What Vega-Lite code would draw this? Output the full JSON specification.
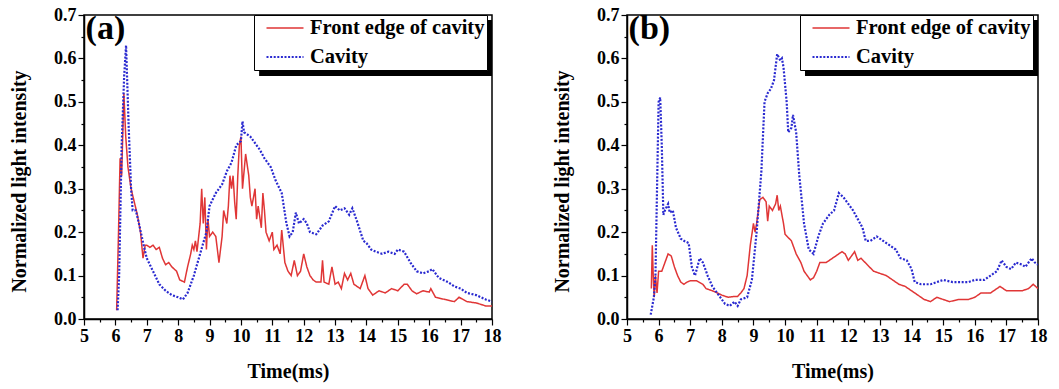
{
"$schema": "https://vega.github.io/schema/vega-lite/v6.json",
"padding": {"left": 8, "top": 5, "right": 2, "bottom": 2},
"spacing": 49,
"config": {
  "font": "Liberation Serif",
  "view": {"stroke": "black", "strokeWidth": 1.5},
  "axis": {"labelOverlap": false, "labelSeparation": 0, "labelFont": "Liberation Serif", "labelFontWeight": "bold", "labelFontSize": 18, "labelColor": "black", "titleFont": "Liberation Serif", "titleFontWeight": "bold", "titleFontSize": 20, "titleColor": "black", "domainColor": "black", "domainWidth": 1.5, "tickColor": "black", "tickWidth": 1.2, "gridColor": "#9a9a9a", "gridDash": [4, 3], "gridWidth": 1},
  "legend": {"orient": "none", "legendY": 0, "title": null, "fillColor": "white", "strokeColor": "black", "strokeWidth": 1, "padding": 2, "labelFont": "Liberation Serif", "labelFontWeight": "bold", "labelFontSize": 20.5, "labelLimit": 400, "labelColor": "black", "symbolType": "M-0.1,0L3.6,0", "symbolSize": 400, "symbolStrokeWidth": 2, "rowPadding": 6.5, "labelOffset": 31}
},
"resolve": {"scale": {"color": "independent", "strokeDash": "independent", "strokeWidth": "independent"}, "legend": {"color": "independent", "strokeDash": "independent"}},
"hconcat": [
{
  "width": 408, "height": 304,
  "layer": [
  {
    "data": {"values": [{}]},
    "mark": {"type": "rect", "color": "black"},
    "encoding": {"x": {"datum": 10.58, "type": "quantitative", "scale": {"domain": [5, 18], "nice": false, "zero": false}}, "x2": {"datum": 18}, "y": {"datum": 0.6885, "type": "quantitative", "scale": {"domain": [0, 0.7], "nice": false, "zero": false}}, "y2": {"datum": 0.5595}}
  },
  {
    "data": {"values": [
{"series":"Front edge of cavity","t":6.04,"v":0.02},{"series":"Front edge of cavity","t":6.1,"v":0.2},{"series":"Front edge of cavity","t":6.15,"v":0.37},{"series":"Front edge of cavity","t":6.2,"v":0.33},{"series":"Front edge of cavity","t":6.27,"v":0.52},{"series":"Front edge of cavity","t":6.33,"v":0.42},{"series":"Front edge of cavity","t":6.4,"v":0.35},{"series":"Front edge of cavity","t":6.5,"v":0.3},{"series":"Front edge of cavity","t":6.6,"v":0.27},{"series":"Front edge of cavity","t":6.7,"v":0.24},{"series":"Front edge of cavity","t":6.8,"v":0.2},{"series":"Front edge of cavity","t":6.88,"v":0.14},{"series":"Front edge of cavity","t":6.95,"v":0.17},{"series":"Front edge of cavity","t":7.0,"v":0.17},{"series":"Front edge of cavity","t":7.1,"v":0.165},{"series":"Front edge of cavity","t":7.2,"v":0.17},{"series":"Front edge of cavity","t":7.3,"v":0.16},{"series":"Front edge of cavity","t":7.4,"v":0.165},{"series":"Front edge of cavity","t":7.5,"v":0.14},{"series":"Front edge of cavity","t":7.6,"v":0.125},{"series":"Front edge of cavity","t":7.7,"v":0.13},{"series":"Front edge of cavity","t":7.8,"v":0.12},{"series":"Front edge of cavity","t":7.95,"v":0.11},{"series":"Front edge of cavity","t":8.05,"v":0.09},{"series":"Front edge of cavity","t":8.2,"v":0.085},{"series":"Front edge of cavity","t":8.3,"v":0.12},{"series":"Front edge of cavity","t":8.4,"v":0.15},{"series":"Front edge of cavity","t":8.45,"v":0.17},{"series":"Front edge of cavity","t":8.5,"v":0.16},{"series":"Front edge of cavity","t":8.55,"v":0.18},{"series":"Front edge of cavity","t":8.6,"v":0.155},{"series":"Front edge of cavity","t":8.7,"v":0.22},{"series":"Front edge of cavity","t":8.75,"v":0.3},{"series":"Front edge of cavity","t":8.8,"v":0.22},{"series":"Front edge of cavity","t":8.85,"v":0.28},{"series":"Front edge of cavity","t":8.9,"v":0.16},{"series":"Front edge of cavity","t":8.95,"v":0.23},{"series":"Front edge of cavity","t":9.0,"v":0.19},{"series":"Front edge of cavity","t":9.1,"v":0.2},{"series":"Front edge of cavity","t":9.2,"v":0.19},{"series":"Front edge of cavity","t":9.3,"v":0.13},{"series":"Front edge of cavity","t":9.4,"v":0.19},{"series":"Front edge of cavity","t":9.45,"v":0.25},{"series":"Front edge of cavity","t":9.55,"v":0.22},{"series":"Front edge of cavity","t":9.6,"v":0.26},{"series":"Front edge of cavity","t":9.65,"v":0.33},{"series":"Front edge of cavity","t":9.7,"v":0.3},{"series":"Front edge of cavity","t":9.75,"v":0.33},{"series":"Front edge of cavity","t":9.8,"v":0.27},{"series":"Front edge of cavity","t":9.85,"v":0.23},{"series":"Front edge of cavity","t":9.9,"v":0.33},{"series":"Front edge of cavity","t":9.95,"v":0.4},{"series":"Front edge of cavity","t":10.0,"v":0.42},{"series":"Front edge of cavity","t":10.05,"v":0.3},{"series":"Front edge of cavity","t":10.15,"v":0.38},{"series":"Front edge of cavity","t":10.25,"v":0.33},{"series":"Front edge of cavity","t":10.3,"v":0.28},{"series":"Front edge of cavity","t":10.35,"v":0.26},{"series":"Front edge of cavity","t":10.45,"v":0.3},{"series":"Front edge of cavity","t":10.5,"v":0.23},{"series":"Front edge of cavity","t":10.55,"v":0.26},{"series":"Front edge of cavity","t":10.65,"v":0.21},{"series":"Front edge of cavity","t":10.7,"v":0.29},{"series":"Front edge of cavity","t":10.75,"v":0.25},{"series":"Front edge of cavity","t":10.8,"v":0.2},{"series":"Front edge of cavity","t":10.9,"v":0.18},{"series":"Front edge of cavity","t":11.0,"v":0.2},{"series":"Front edge of cavity","t":11.05,"v":0.16},{"series":"Front edge of cavity","t":11.15,"v":0.17},{"series":"Front edge of cavity","t":11.25,"v":0.15},{"series":"Front edge of cavity","t":11.3,"v":0.205},{"series":"Front edge of cavity","t":11.4,"v":0.13},{"series":"Front edge of cavity","t":11.5,"v":0.11},{"series":"Front edge of cavity","t":11.6,"v":0.1},{"series":"Front edge of cavity","t":11.7,"v":0.135},{"series":"Front edge of cavity","t":11.8,"v":0.1},{"series":"Front edge of cavity","t":11.9,"v":0.11},{"series":"Front edge of cavity","t":12.0,"v":0.15},{"series":"Front edge of cavity","t":12.1,"v":0.12},{"series":"Front edge of cavity","t":12.2,"v":0.1},{"series":"Front edge of cavity","t":12.3,"v":0.09},{"series":"Front edge of cavity","t":12.4,"v":0.085},{"series":"Front edge of cavity","t":12.55,"v":0.085},{"series":"Front edge of cavity","t":12.6,"v":0.135},{"series":"Front edge of cavity","t":12.65,"v":0.085},{"series":"Front edge of cavity","t":12.8,"v":0.08},{"series":"Front edge of cavity","t":12.9,"v":0.12},{"series":"Front edge of cavity","t":13.0,"v":0.08},{"series":"Front edge of cavity","t":13.1,"v":0.085},{"series":"Front edge of cavity","t":13.2,"v":0.07},{"series":"Front edge of cavity","t":13.3,"v":0.105},{"series":"Front edge of cavity","t":13.4,"v":0.09},{"series":"Front edge of cavity","t":13.5,"v":0.105},{"series":"Front edge of cavity","t":13.6,"v":0.08},{"series":"Front edge of cavity","t":13.8,"v":0.07},{"series":"Front edge of cavity","t":13.95,"v":0.1},{"series":"Front edge of cavity","t":14.05,"v":0.07},{"series":"Front edge of cavity","t":14.2,"v":0.055},{"series":"Front edge of cavity","t":14.4,"v":0.065},{"series":"Front edge of cavity","t":14.6,"v":0.06},{"series":"Front edge of cavity","t":14.8,"v":0.07},{"series":"Front edge of cavity","t":15.0,"v":0.065},{"series":"Front edge of cavity","t":15.2,"v":0.08},{"series":"Front edge of cavity","t":15.3,"v":0.08},{"series":"Front edge of cavity","t":15.45,"v":0.065},{"series":"Front edge of cavity","t":15.6,"v":0.058},{"series":"Front edge of cavity","t":15.8,"v":0.065},{"series":"Front edge of cavity","t":16.0,"v":0.062},{"series":"Front edge of cavity","t":16.05,"v":0.07},{"series":"Front edge of cavity","t":16.2,"v":0.05},{"series":"Front edge of cavity","t":16.5,"v":0.045},{"series":"Front edge of cavity","t":16.8,"v":0.04},{"series":"Front edge of cavity","t":16.95,"v":0.05},{"series":"Front edge of cavity","t":17.2,"v":0.04},{"series":"Front edge of cavity","t":17.5,"v":0.037},{"series":"Front edge of cavity","t":17.8,"v":0.03},{"series":"Front edge of cavity","t":18.0,"v":0.03},
{"series":"Cavity","t":6.07,"v":0.02},{"series":"Cavity","t":6.12,"v":0.1},{"series":"Cavity","t":6.2,"v":0.4},{"series":"Cavity","t":6.28,"v":0.56},{"series":"Cavity","t":6.34,"v":0.63},{"series":"Cavity","t":6.42,"v":0.45},{"series":"Cavity","t":6.5,"v":0.3},{"series":"Cavity","t":6.55,"v":0.25},{"series":"Cavity","t":6.65,"v":0.25},{"series":"Cavity","t":6.75,"v":0.22},{"series":"Cavity","t":6.9,"v":0.17},{"series":"Cavity","t":7.0,"v":0.14},{"series":"Cavity","t":7.2,"v":0.11},{"series":"Cavity","t":7.4,"v":0.08},{"series":"Cavity","t":7.6,"v":0.065},{"series":"Cavity","t":7.8,"v":0.055},{"series":"Cavity","t":8.0,"v":0.05},{"series":"Cavity","t":8.15,"v":0.045},{"series":"Cavity","t":8.3,"v":0.06},{"series":"Cavity","t":8.5,"v":0.1},{"series":"Cavity","t":8.7,"v":0.15},{"series":"Cavity","t":8.9,"v":0.2},{"series":"Cavity","t":9.0,"v":0.26},{"series":"Cavity","t":9.2,"v":0.29},{"series":"Cavity","t":9.4,"v":0.31},{"series":"Cavity","t":9.55,"v":0.34},{"series":"Cavity","t":9.7,"v":0.36},{"series":"Cavity","t":9.85,"v":0.4},{"series":"Cavity","t":10.0,"v":0.41},{"series":"Cavity","t":10.05,"v":0.455},{"series":"Cavity","t":10.1,"v":0.43},{"series":"Cavity","t":10.3,"v":0.42},{"series":"Cavity","t":10.5,"v":0.4},{"series":"Cavity","t":10.6,"v":0.39},{"series":"Cavity","t":10.75,"v":0.37},{"series":"Cavity","t":10.95,"v":0.35},{"series":"Cavity","t":11.1,"v":0.32},{"series":"Cavity","t":11.3,"v":0.29},{"series":"Cavity","t":11.45,"v":0.22},{"series":"Cavity","t":11.55,"v":0.19},{"series":"Cavity","t":11.65,"v":0.2},{"series":"Cavity","t":11.75,"v":0.245},{"series":"Cavity","t":11.85,"v":0.22},{"series":"Cavity","t":12.0,"v":0.23},{"series":"Cavity","t":12.1,"v":0.22},{"series":"Cavity","t":12.2,"v":0.2},{"series":"Cavity","t":12.4,"v":0.195},{"series":"Cavity","t":12.6,"v":0.215},{"series":"Cavity","t":12.8,"v":0.225},{"series":"Cavity","t":13.0,"v":0.26},{"series":"Cavity","t":13.15,"v":0.25},{"series":"Cavity","t":13.3,"v":0.255},{"series":"Cavity","t":13.45,"v":0.24},{"series":"Cavity","t":13.55,"v":0.255},{"series":"Cavity","t":13.7,"v":0.225},{"series":"Cavity","t":13.9,"v":0.18},{"series":"Cavity","t":14.0,"v":0.175},{"series":"Cavity","t":14.15,"v":0.16},{"series":"Cavity","t":14.3,"v":0.155},{"series":"Cavity","t":14.5,"v":0.15},{"series":"Cavity","t":14.7,"v":0.155},{"series":"Cavity","t":14.9,"v":0.15},{"series":"Cavity","t":15.0,"v":0.16},{"series":"Cavity","t":15.2,"v":0.155},{"series":"Cavity","t":15.4,"v":0.13},{"series":"Cavity","t":15.6,"v":0.11},{"series":"Cavity","t":15.8,"v":0.105},{"series":"Cavity","t":16.0,"v":0.11},{"series":"Cavity","t":16.1,"v":0.115},{"series":"Cavity","t":16.3,"v":0.095},{"series":"Cavity","t":16.6,"v":0.085},{"series":"Cavity","t":16.8,"v":0.075},{"series":"Cavity","t":17.0,"v":0.07},{"series":"Cavity","t":17.2,"v":0.06},{"series":"Cavity","t":17.5,"v":0.055},{"series":"Cavity","t":17.8,"v":0.045},{"series":"Cavity","t":18.0,"v":0.04}
    ]},
    "mark": {"type": "line", "clip": true},
    "encoding": {
      "x": {"field": "t", "type": "quantitative", "title": "Time(ms)", "scale": {"domain": [5, 18], "nice": false, "zero": false},
            "axis": {"values": [5,5.5,6,6.5,7,7.5,8,8.5,9,9.5,10,10.5,11,11.5,12,12.5,13,13.5,14,14.5,15,15.5,16,16.5,17,17.5,18],
                     "tickCount": 100, "format": ".0f",
                     "labelExpr": "datum.value % 1 == 0 ? datum.label : ''",
                     "tickSize": {"condition": {"test": "datum.value % 1 == 0", "value": 6}, "value": 3},
                     "gridOpacity": {"condition": {"test": "datum.value % 1 == 0", "value": 1}, "value": 0},
                     "labelPadding": 2, "titlePadding": 16, "labelFlush": false, "labelOverlap": false}},
      "y": {"field": "v", "type": "quantitative", "title": "Normalized light intensity", "scale": {"domain": [0, 0.7], "nice": false, "zero": false},
            "axis": {"values": [0,0.05,0.1,0.15,0.2,0.25,0.3,0.35,0.4,0.45,0.5,0.55,0.6,0.65,0.7],
                     "tickCount": 100,
                     "labelExpr": "round(datum.value*20) % 2 == 0 ? format(datum.value, '.1f') : ''",
                     "tickSize": {"condition": {"test": "round(datum.value*20) % 2 == 0", "value": 6}, "value": 3},
                     "gridOpacity": {"condition": {"test": "round(datum.value*20) % 2 == 0", "value": 1}, "value": 0},
                     "labelPadding": 2, "titlePadding": 24, "titleY": 166, "labelFlush": false, "labelOverlap": false}},
      "color": {"field": "series", "type": "nominal", "scale": {"domain": ["Front edge of cavity", "Cavity"], "range": ["#e03636", "#2a2ad0"]}, "legend": {"legendX": 170}},
      "strokeDash": {"field": "series", "type": "nominal", "scale": {"domain": ["Front edge of cavity", "Cavity"], "range": [[1, 0], [2, 1.6]]}},
      "strokeWidth": {"field": "series", "type": "nominal", "scale": {"domain": ["Front edge of cavity", "Cavity"], "range": [1.5, 2.2]}, "legend": null},
      "order": {"field": "t", "type": "quantitative"}
    }
  },
  {
    "data": {"values": [{}]},
    "mark": {"type": "text", "text": "(a)", "font": "Liberation Serif", "fontWeight": "bold", "fontSize": 34, "align": "left", "baseline": "middle", "color": "black"},
    "encoding": {"x": {"datum": 5.05}, "y": {"datum": 0.668}}
  }
  ]
},
{
  "width": 411, "height": 304,
  "layer": [
  {
    "data": {"values": [{}]},
    "mark": {"type": "rect", "color": "black"},
    "encoding": {"x": {"datum": 10.63, "type": "quantitative", "scale": {"domain": [5, 18], "nice": false, "zero": false}}, "x2": {"datum": 18}, "y": {"datum": 0.6885, "type": "quantitative", "scale": {"domain": [0, 0.7], "nice": false, "zero": false}}, "y2": {"datum": 0.5595}}
  },
  {
    "data": {"values": [
{"series":"Front edge of cavity","t":5.77,"v":0.07},{"series":"Front edge of cavity","t":5.8,"v":0.17},{"series":"Front edge of cavity","t":5.83,"v":0.1},{"series":"Front edge of cavity","t":5.86,"v":0.05},{"series":"Front edge of cavity","t":5.9,"v":0.1},{"series":"Front edge of cavity","t":5.95,"v":0.06},{"series":"Front edge of cavity","t":6.0,"v":0.11},{"series":"Front edge of cavity","t":6.1,"v":0.11},{"series":"Front edge of cavity","t":6.2,"v":0.13},{"series":"Front edge of cavity","t":6.3,"v":0.15},{"series":"Front edge of cavity","t":6.4,"v":0.145},{"series":"Front edge of cavity","t":6.5,"v":0.12},{"series":"Front edge of cavity","t":6.6,"v":0.1},{"series":"Front edge of cavity","t":6.7,"v":0.085},{"series":"Front edge of cavity","t":6.8,"v":0.08},{"series":"Front edge of cavity","t":6.9,"v":0.085},{"series":"Front edge of cavity","t":7.0,"v":0.088},{"series":"Front edge of cavity","t":7.2,"v":0.088},{"series":"Front edge of cavity","t":7.4,"v":0.08},{"series":"Front edge of cavity","t":7.5,"v":0.07},{"series":"Front edge of cavity","t":7.7,"v":0.065},{"series":"Front edge of cavity","t":7.8,"v":0.062},{"series":"Front edge of cavity","t":8.0,"v":0.055},{"series":"Front edge of cavity","t":8.2,"v":0.05},{"series":"Front edge of cavity","t":8.4,"v":0.052},{"series":"Front edge of cavity","t":8.5,"v":0.052},{"series":"Front edge of cavity","t":8.6,"v":0.06},{"series":"Front edge of cavity","t":8.7,"v":0.07},{"series":"Front edge of cavity","t":8.8,"v":0.1},{"series":"Front edge of cavity","t":8.9,"v":0.17},{"series":"Front edge of cavity","t":9.0,"v":0.22},{"series":"Front edge of cavity","t":9.05,"v":0.2},{"series":"Front edge of cavity","t":9.1,"v":0.22},{"series":"Front edge of cavity","t":9.2,"v":0.275},{"series":"Front edge of cavity","t":9.3,"v":0.28},{"series":"Front edge of cavity","t":9.4,"v":0.27},{"series":"Front edge of cavity","t":9.45,"v":0.225},{"series":"Front edge of cavity","t":9.5,"v":0.26},{"series":"Front edge of cavity","t":9.6,"v":0.25},{"series":"Front edge of cavity","t":9.7,"v":0.265},{"series":"Front edge of cavity","t":9.75,"v":0.285},{"series":"Front edge of cavity","t":9.8,"v":0.25},{"series":"Front edge of cavity","t":9.85,"v":0.26},{"series":"Front edge of cavity","t":9.95,"v":0.22},{"series":"Front edge of cavity","t":10.0,"v":0.195},{"series":"Front edge of cavity","t":10.2,"v":0.18},{"series":"Front edge of cavity","t":10.35,"v":0.15},{"series":"Front edge of cavity","t":10.5,"v":0.13},{"series":"Front edge of cavity","t":10.6,"v":0.11},{"series":"Front edge of cavity","t":10.7,"v":0.1},{"series":"Front edge of cavity","t":10.8,"v":0.09},{"series":"Front edge of cavity","t":10.9,"v":0.095},{"series":"Front edge of cavity","t":11.0,"v":0.11},{"series":"Front edge of cavity","t":11.1,"v":0.13},{"series":"Front edge of cavity","t":11.3,"v":0.13},{"series":"Front edge of cavity","t":11.5,"v":0.14},{"series":"Front edge of cavity","t":11.7,"v":0.15},{"series":"Front edge of cavity","t":11.8,"v":0.155},{"series":"Front edge of cavity","t":11.9,"v":0.15},{"series":"Front edge of cavity","t":12.0,"v":0.135},{"series":"Front edge of cavity","t":12.2,"v":0.155},{"series":"Front edge of cavity","t":12.3,"v":0.135},{"series":"Front edge of cavity","t":12.4,"v":0.14},{"series":"Front edge of cavity","t":12.6,"v":0.125},{"series":"Front edge of cavity","t":12.8,"v":0.11},{"series":"Front edge of cavity","t":13.0,"v":0.105},{"series":"Front edge of cavity","t":13.2,"v":0.1},{"series":"Front edge of cavity","t":13.4,"v":0.09},{"series":"Front edge of cavity","t":13.6,"v":0.08},{"series":"Front edge of cavity","t":13.8,"v":0.075},{"series":"Front edge of cavity","t":14.0,"v":0.065},{"series":"Front edge of cavity","t":14.2,"v":0.055},{"series":"Front edge of cavity","t":14.4,"v":0.045},{"series":"Front edge of cavity","t":14.6,"v":0.04},{"series":"Front edge of cavity","t":14.8,"v":0.05},{"series":"Front edge of cavity","t":15.0,"v":0.045},{"series":"Front edge of cavity","t":15.2,"v":0.04},{"series":"Front edge of cavity","t":15.5,"v":0.045},{"series":"Front edge of cavity","t":15.8,"v":0.045},{"series":"Front edge of cavity","t":16.0,"v":0.05},{"series":"Front edge of cavity","t":16.2,"v":0.06},{"series":"Front edge of cavity","t":16.5,"v":0.06},{"series":"Front edge of cavity","t":16.8,"v":0.075},{"series":"Front edge of cavity","t":17.0,"v":0.065},{"series":"Front edge of cavity","t":17.3,"v":0.065},{"series":"Front edge of cavity","t":17.5,"v":0.065},{"series":"Front edge of cavity","t":17.7,"v":0.07},{"series":"Front edge of cavity","t":17.85,"v":0.08},{"series":"Front edge of cavity","t":18.0,"v":0.07},
{"series":"Cavity","t":5.75,"v":0.01},{"series":"Cavity","t":5.85,"v":0.05},{"series":"Cavity","t":5.9,"v":0.1},{"series":"Cavity","t":5.95,"v":0.3},{"series":"Cavity","t":6.0,"v":0.5},{"series":"Cavity","t":6.05,"v":0.51},{"series":"Cavity","t":6.1,"v":0.4},{"series":"Cavity","t":6.15,"v":0.24},{"series":"Cavity","t":6.2,"v":0.25},{"series":"Cavity","t":6.3,"v":0.265},{"series":"Cavity","t":6.35,"v":0.245},{"series":"Cavity","t":6.45,"v":0.25},{"series":"Cavity","t":6.55,"v":0.21},{"series":"Cavity","t":6.7,"v":0.185},{"series":"Cavity","t":6.8,"v":0.18},{"series":"Cavity","t":6.95,"v":0.175},{"series":"Cavity","t":7.05,"v":0.12},{"series":"Cavity","t":7.15,"v":0.1},{"series":"Cavity","t":7.3,"v":0.14},{"series":"Cavity","t":7.4,"v":0.13},{"series":"Cavity","t":7.55,"v":0.1},{"series":"Cavity","t":7.7,"v":0.075},{"series":"Cavity","t":7.9,"v":0.055},{"series":"Cavity","t":8.1,"v":0.035},{"series":"Cavity","t":8.25,"v":0.03},{"series":"Cavity","t":8.4,"v":0.04},{"series":"Cavity","t":8.5,"v":0.03},{"series":"Cavity","t":8.6,"v":0.045},{"series":"Cavity","t":8.8,"v":0.05},{"series":"Cavity","t":8.95,"v":0.09},{"series":"Cavity","t":9.1,"v":0.2},{"series":"Cavity","t":9.25,"v":0.34},{"series":"Cavity","t":9.35,"v":0.5},{"series":"Cavity","t":9.45,"v":0.52},{"series":"Cavity","t":9.55,"v":0.53},{"series":"Cavity","t":9.65,"v":0.55},{"series":"Cavity","t":9.75,"v":0.61},{"series":"Cavity","t":9.85,"v":0.595},{"series":"Cavity","t":9.9,"v":0.6},{"series":"Cavity","t":9.95,"v":0.58},{"series":"Cavity","t":10.05,"v":0.5},{"series":"Cavity","t":10.1,"v":0.43},{"series":"Cavity","t":10.2,"v":0.44},{"series":"Cavity","t":10.25,"v":0.47},{"series":"Cavity","t":10.35,"v":0.43},{"series":"Cavity","t":10.45,"v":0.33},{"series":"Cavity","t":10.6,"v":0.22},{"series":"Cavity","t":10.75,"v":0.16},{"series":"Cavity","t":10.9,"v":0.15},{"series":"Cavity","t":11.05,"v":0.19},{"series":"Cavity","t":11.2,"v":0.22},{"series":"Cavity","t":11.4,"v":0.24},{"series":"Cavity","t":11.55,"v":0.25},{"series":"Cavity","t":11.7,"v":0.29},{"series":"Cavity","t":11.85,"v":0.28},{"series":"Cavity","t":12.0,"v":0.265},{"series":"Cavity","t":12.15,"v":0.25},{"series":"Cavity","t":12.3,"v":0.23},{"series":"Cavity","t":12.45,"v":0.21},{"series":"Cavity","t":12.55,"v":0.18},{"series":"Cavity","t":12.7,"v":0.18},{"series":"Cavity","t":12.9,"v":0.19},{"series":"Cavity","t":13.1,"v":0.18},{"series":"Cavity","t":13.3,"v":0.17},{"series":"Cavity","t":13.5,"v":0.16},{"series":"Cavity","t":13.65,"v":0.14},{"series":"Cavity","t":13.85,"v":0.135},{"series":"Cavity","t":14.0,"v":0.115},{"series":"Cavity","t":14.1,"v":0.085},{"series":"Cavity","t":14.3,"v":0.08},{"series":"Cavity","t":14.6,"v":0.08},{"series":"Cavity","t":14.8,"v":0.085},{"series":"Cavity","t":15.0,"v":0.09},{"series":"Cavity","t":15.3,"v":0.085},{"series":"Cavity","t":15.5,"v":0.085},{"series":"Cavity","t":15.8,"v":0.085},{"series":"Cavity","t":16.0,"v":0.09},{"series":"Cavity","t":16.3,"v":0.09},{"series":"Cavity","t":16.5,"v":0.1},{"series":"Cavity","t":16.7,"v":0.11},{"series":"Cavity","t":16.85,"v":0.135},{"series":"Cavity","t":17.0,"v":0.12},{"series":"Cavity","t":17.15,"v":0.115},{"series":"Cavity","t":17.3,"v":0.13},{"series":"Cavity","t":17.5,"v":0.125},{"series":"Cavity","t":17.6,"v":0.12},{"series":"Cavity","t":17.8,"v":0.14},{"series":"Cavity","t":17.9,"v":0.13},{"series":"Cavity","t":18.0,"v":0.125}
    ]},
    "mark": {"type": "line", "clip": true},
    "encoding": {
      "x": {"field": "t", "type": "quantitative", "title": "Time(ms)", "scale": {"domain": [5, 18], "nice": false, "zero": false},
            "axis": {"values": [5,5.5,6,6.5,7,7.5,8,8.5,9,9.5,10,10.5,11,11.5,12,12.5,13,13.5,14,14.5,15,15.5,16,16.5,17,17.5,18],
                     "tickCount": 100, "format": ".0f",
                     "labelExpr": "datum.value % 1 == 0 ? datum.label : ''",
                     "tickSize": {"condition": {"test": "datum.value % 1 == 0", "value": 6}, "value": 3},
                     "gridOpacity": {"condition": {"test": "datum.value % 1 == 0", "value": 1}, "value": 0},
                     "labelPadding": 2, "titlePadding": 16, "labelFlush": false, "labelOverlap": false}},
      "y": {"field": "v", "type": "quantitative", "title": "Normalized light intensity", "scale": {"domain": [0, 0.7], "nice": false, "zero": false},
            "axis": {"values": [0,0.05,0.1,0.15,0.2,0.25,0.3,0.35,0.4,0.45,0.5,0.55,0.6,0.65,0.7],
                     "tickCount": 100,
                     "labelExpr": "round(datum.value*20) % 2 == 0 ? format(datum.value, '.1f') : ''",
                     "tickSize": {"condition": {"test": "round(datum.value*20) % 2 == 0", "value": 6}, "value": 3},
                     "gridOpacity": {"condition": {"test": "round(datum.value*20) % 2 == 0", "value": 1}, "value": 0},
                     "labelPadding": 2, "titlePadding": 24, "titleY": 166, "labelFlush": false, "labelOverlap": false}},
      "color": {"field": "series", "type": "nominal", "scale": {"domain": ["Front edge of cavity", "Cavity"], "range": ["#e03636", "#2a2ad0"]}, "legend": {"legendX": 173}},
      "strokeDash": {"field": "series", "type": "nominal", "scale": {"domain": ["Front edge of cavity", "Cavity"], "range": [[1, 0], [2, 1.6]]}},
      "strokeWidth": {"field": "series", "type": "nominal", "scale": {"domain": ["Front edge of cavity", "Cavity"], "range": [1.5, 2.2]}, "legend": null},
      "order": {"field": "t", "type": "quantitative"}
    }
  },
  {
    "data": {"values": [{}]},
    "mark": {"type": "text", "text": "(b)", "font": "Liberation Serif", "fontWeight": "bold", "fontSize": 34, "align": "left", "baseline": "middle", "color": "black"},
    "encoding": {"x": {"datum": 5.05}, "y": {"datum": 0.668}}
  }
  ]
}
]
}
